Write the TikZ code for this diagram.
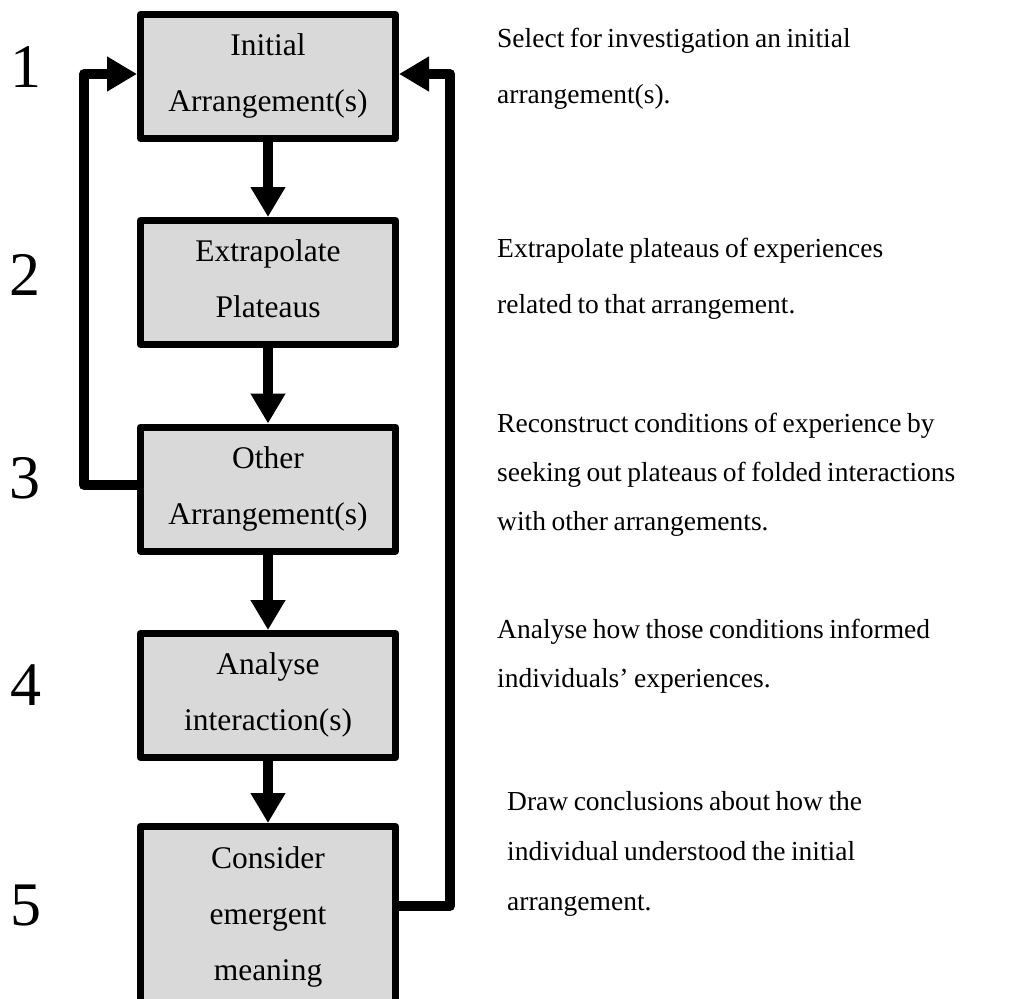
\documentclass[tikz,border=0pt]{standalone}
\usepackage{fontspec}
\setmainfont{Liberation Serif}
\usetikzlibrary{arrows.meta,calc}
\definecolor{boxgrey}{HTML}{D9D9D9}
% uniform line strut so every box line has the same height and depth
\newcommand{\ls}{\rule[-7pt]{0pt}{27pt}}
% tight word spacing for the description paragraphs
\newcommand{\tight}{\spaceskip=.2em plus .05em\relax}
\tikzset{
  stepbox/.style={draw=black, line width=7pt, fill=boxgrey, line join=round,
    minimum width=255pt, minimum height=124pt, inner sep=0pt, align=center,
    font=\fontsize{31.5}{56}\selectfont},
  flow/.style={line width=10pt, -{Triangle[length=30pt,width=33pt]}},
  back/.style={flow, line join=round},
  desc/.style={anchor=base west, text width=530pt, align=left, inner sep=0pt},
  num/.style={anchor=base, inner sep=0pt, font=\fontsize{62}{62}\selectfont}
}
\begin{document}
\begin{tikzpicture}[x=1pt,y=1pt]
  \useasboundingbox (0,0) rectangle (1032,-998);
  \fill[white] (0,0) rectangle (1032,-998);

  % step numbers
  \node[num] (n1) at (26,-87)  {1};
  \node[num] (n2) at (25,-295) {2};
  \node[num] (n3) at (25,-498) {3};
  \node[num] (n4) at (26,-705) {4};
  \node[num] (n5) at (26,-925) {5};

  % process boxes
  \node[stepbox] (b1) at (268,-76.5)  {\ls Initial\\\ls Arrangement(s)};
  \node[stepbox] (b2) at (268,-282.5) {\ls Extrapolate\\\ls Plateaus};
  \node[stepbox] (b3) at (268,-489)   {\ls Other\\\ls Arrangement(s)};
  \node[stepbox] (b4) at (268,-695.5) {\ls Analyse\\\ls interaction(s)};
  \node[stepbox, minimum height=182pt] (b5) at (268,-917.5)
    {\ls Consider\\\ls emergent\\\ls meaning};

  % forward flow
  \draw[flow] (b1.south) -- (b2.north);
  \draw[flow] (b2.south) -- (b3.north);
  \draw[flow] (b3.south) -- (b4.north);
  \draw[flow] (b4.south) -- (b5.north);

  % feedback loops
  \coordinate (lbend) at (84,-74);
  \coordinate (rbend) at (450,-74);
  \coordinate (b3out) at ($(b3.west)+(0,4)$);
  \coordinate (b5out) at ($(b5.east)+(0,11.5)$);
  \draw[back] (b3out) -| (lbend) -- (b1.west |- lbend);
  \draw[back] (b5out) -| (rbend) -- (b1.east |- rbend);

  % descriptions
  \node[desc, font=\fontsize{27.5}{55}\selectfont] (d1) at (497,-48)
    {\tight Select for investigation an initial\\arrangement(s).};
  \node[desc, font=\fontsize{27.5}{56}\selectfont] (d2) at (497,-257)
    {\tight Extrapolate plateaus of experiences\\related to that arrangement.};
  \node[desc, font=\fontsize{27.5}{49}\selectfont] (d3) at (497,-432)
    {\tight Reconstruct conditions of experience by\\seeking out plateaus of folded interactions\\with other arrangements.};
  \node[desc, font=\fontsize{27.5}{49}\selectfont] (d4) at (497,-638)
    {\tight Analyse how those conditions informed\\individuals’ experiences.};
  \node[desc, font=\fontsize{27.5}{50}\selectfont] (d5) at (507,-810)
    {\tight Draw conclusions about how the\\individual understood the initial\\arrangement.};
\end{tikzpicture}
\end{document}
